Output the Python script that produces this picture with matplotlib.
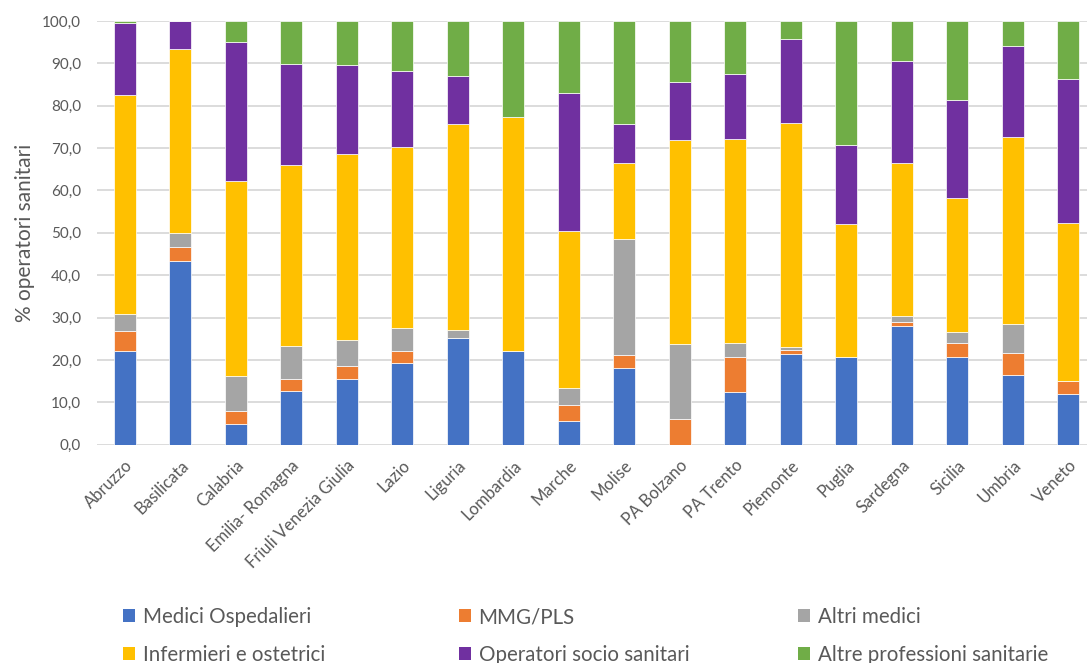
import matplotlib
matplotlib.use("Agg")
import matplotlib.pyplot as plt
from matplotlib.patches import Patch
import numpy as np

plt.rcParams['font.family'] = ['Lato', 'DejaVu Sans']

regioni = ["Abruzzo", "Basilicata", "Calabria", "Emilia- Romagna", "Friuli Venezia Giulia",
           "Lazio", "Liguria", "Lombardia", "Marche", "Molise", "PA Bolzano", "PA Trento",
           "Piemonte", "Puglia", "Sardegna", "Sicilia", "Umbria", "Veneto"]

medici_ospedalieri = [22.0, 43.3, 5.0, 12.7, 15.5, 19.4, 25.3, 22.2, 5.7, 18.0, 0.0, 12.4,
                      21.3, 20.7, 28.1, 20.7, 16.5, 12.0]
mmg_pls = [4.8, 3.3, 3.0, 2.8, 3.0, 2.8, 0.0, 0.0, 3.7, 3.2, 6.0, 8.4,
           1.1, 0.0, 0.9, 3.2, 5.1, 3.0]
altri_medici = [4.0, 3.4, 8.3, 7.9, 6.3, 5.4, 1.8, 0.0, 4.1, 27.3, 17.7, 3.3,
                0.6, 0.0, 1.4, 2.8, 7.0, 0.0]
infermieri = [51.7, 43.3, 46.0, 42.5, 43.8, 42.7, 48.7, 55.1, 36.9, 18.1, 48.3, 48.1,
              52.9, 31.5, 36.1, 31.6, 44.0, 37.3]
oss = [17.1, 6.7, 32.8, 23.9, 20.9, 18.0, 11.3, 0.0, 32.7, 9.2, 13.6, 15.3,
       19.8, 18.6, 24.1, 23.1, 21.6, 33.9]
altre_professioni = [0.4, 0.0, 4.9, 10.2, 10.5, 11.7, 12.9, 22.7, 16.9, 24.2, 14.4, 12.5,
                     4.3, 29.2, 9.4, 18.6, 5.8, 13.8]

serie = [
    ("Medici Ospedalieri", medici_ospedalieri, "#4472C4"),
    ("MMG/PLS", mmg_pls, "#ED7D31"),
    ("Altri medici", altri_medici, "#A5A5A5"),
    ("Infermieri e ostetrici", infermieri, "#FFC000"),
    ("Operatori socio sanitari", oss, "#7030A0"),
    ("Altre professioni sanitarie", altre_professioni, "#70AD47"),
]

W, H = 1087, 663
fig = plt.figure(figsize=(W / 100, H / 100), dpi=100)
ax = fig.add_axes([97 / W, (H - 444.7) / H, (1087 - 97) / W, (444.7 - 21) / H])

x = np.arange(len(regioni))
bottom = np.zeros(len(regioni))
handles = []
for nome, valori, colore in serie:
    v = np.array(valori)
    ax.bar(x, v, width=0.4, bottom=bottom, color=colore, edgecolor="white",
           linewidth=0.5, zorder=3)
    bottom += v
    handles.append(Patch(facecolor=colore, edgecolor="none", label=nome))

ax.set_ylim(0, 100)
ax.set_xlim(-0.5, -0.5 + (1087 - 97) / 55.5)
ax.set_yticks(np.arange(0, 101, 10))
ax.set_yticklabels([f"{t:.1f}".replace(".", ",") for t in np.arange(0, 101, 10)])
ax.grid(axis="y", color="#d9d9d9", linewidth=1.3, zorder=0)
ax.set_axisbelow(True)
for s in ax.spines.values():
    s.set_visible(False)
ax.tick_params(axis="both", length=0, colors="#595959", labelsize=11)
ax.tick_params(axis="y", pad=11.5)
ax.set_xticks(x)
ax.set_xticklabels(regioni, rotation=45, ha="right", rotation_mode="anchor", fontsize=12)
ax.tick_params(axis="x", pad=9)
ax.set_ylabel("% operatori sanitari", fontsize=15, color="#595959", labelpad=5)

# legend: three columns of two entries each
col_x = [123, 459, 798]
for i, cx in enumerate(col_x):
    leg = fig.legend(handles=[handles[i], handles[i + 3]], loc="upper left",
                     bbox_to_anchor=(cx / W, 1 - 607 / H), frameon=False,
                     fontsize=14.8, handlelength=0.6, handleheight=0.6,
                     handletextpad=0.35, labelspacing=0.88, borderaxespad=0,
                     borderpad=0)
    for t in leg.get_texts():
        t.set_color("#595959")

fig.savefig("out.png", dpi=100)
